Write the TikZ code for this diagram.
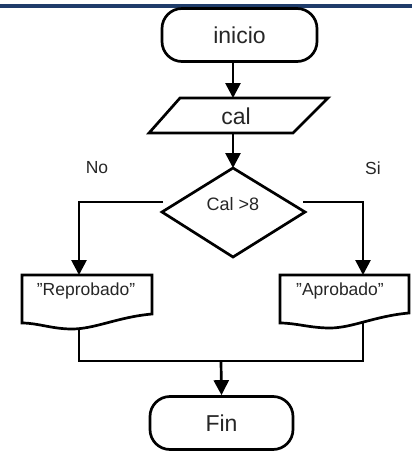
\documentclass[tikz,border=0pt]{standalone}
\usepackage{fontspec}
\setmainfont{Liberation Sans}
\usetikzlibrary{arrows.meta}
\definecolor{barblue}{HTML}{1F3C6A}
\definecolor{txt}{HTML}{262626}
\begin{document}
\begin{tikzpicture}[x=1pt,y=-1pt,
  line/.style={line width=2.7pt, black},
  arr/.style={line, -{Triangle[width=15pt,length=15pt]}},
  term/.style={draw, line width=2.7pt, rounded corners=20pt, minimum width=#1,
    minimum height=53pt, inner sep=0pt, font=\fontsize{23}{26}\selectfont, text=txt},
  lbl/.style={text=txt, inner sep=0pt},
  big/.style={font=\fontsize{23}{26}\selectfont},
  mid/.style={font=\fontsize{18}{21}\selectfont},
  small/.style={font=\fontsize{17.5}{20}\selectfont},
]
\useasboundingbox (0,0) rectangle (417,453);
\fill[barblue] (0,3.5) rectangle (412,7.5);

% start
\node[term=155pt] (ini) at (239.5,35) {inicio};

% input
\coordinate (pA) at (149,133);
\coordinate (pB) at (180,98);
\coordinate (pC) at (328,98);
\coordinate (pD) at (293,133);
\draw[line] (pA) -- (pB) -- (pC) -- (pD) -- cycle;
\node[lbl,big] (cal) at (236,116) {cal};
\coordinate (calTop) at (233,98);
\coordinate (calBot) at (233,133);

% decision
\coordinate (dT) at (233,168);
\coordinate (dR) at (305,212);
\coordinate (dB) at (233,257);
\coordinate (dL) at (162,212);
\draw[line] (dT) -- (dR) -- (dB) -- (dL) -- cycle;
\node[lbl,mid] (dec) at (233,204) {Cal >8};
\coordinate (dLo) at (163,202);
\coordinate (dRo) at (303,202);

% documents
\draw[line] (22,275) -- (152,275) -- (152,314)
  .. controls (118,317) and (95,329) .. (72,329)
  .. controls (52,329) and (38,323) .. (22,323) -- cycle;
\node[lbl,small] (rep) at (86,291) {"Reprobado"};
\coordinate (repT) at (79,275);
\coordinate (repB) at (79,328);

\draw[line] (280,275) -- (409,275) -- (409,313)
  .. controls (375,316) and (352,328) .. (330,328)
  .. controls (310,328) and (296,323) .. (280,323) -- cycle;
\node[lbl,small] (apr) at (340,291) {"Aprobado"};
\coordinate (aprT) at (363,275);
\coordinate (aprB) at (363,321);

% end
\node[term=143pt] (fin) at (221.5,423) {Fin};
\coordinate (merge) at (221,361);

% labels
\node[lbl,small] (no) at (97,168) {No};
\node[lbl,small] (si) at (373,168) {Si};

% connectors
\draw[arr] ([xshift=-6.5pt]ini.south) -- (calTop);
\draw[arr] (calBot) -- (dT);
\draw[arr] (dLo) -| (repT);
\draw[arr] (dRo) -| (aprT);
\draw[line] (repB) |- (merge) -| (aprB);
\draw[arr] (merge) -- (fin.north);
\end{tikzpicture}
\end{document}
